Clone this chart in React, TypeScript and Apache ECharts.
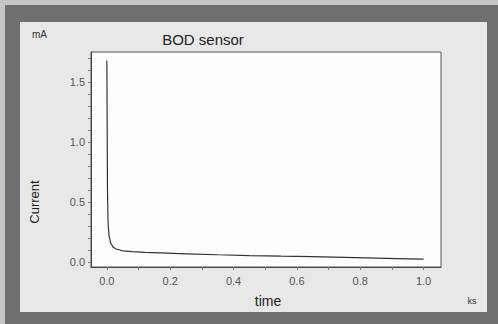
import React, { useEffect, useRef } from "react";
import * as echarts from "echarts";

const timeKs = [0, 0.001, 0.002, 0.004, 0.007, 0.012, 0.02, 0.03, 0.05, 0.08, 0.12, 0.17, 0.25, 0.35, 0.45, 0.55, 0.65, 0.75, 0.85, 0.95, 1.0];
const currentMA = [1.68, 1.2, 0.6, 0.32, 0.22, 0.16, 0.125, 0.11, 0.095, 0.088, 0.082, 0.077, 0.07, 0.062, 0.055, 0.05, 0.046, 0.04, 0.034, 0.028, 0.025];
const xLabels = [0, 0.2, 0.4, 0.6, 0.8, 1.0];
const xTicks = [0, 0.1, 0.2, 0.3, 0.4, 0.5, 0.6, 0.7, 0.8, 0.9, 1.0];
const yLabels = [0, 0.5, 1.0, 1.5];
const yTicks = [0, 0.1, 0.2, 0.3, 0.4, 0.5, 0.6, 0.7, 0.8, 0.9, 1.0, 1.1, 1.2, 1.3, 1.4, 1.5, 1.6, 1.7];

const FONT = "'Liberation Sans', Arial, sans-serif";

export default function App() {
  const ref = useRef<HTMLDivElement>(null);
  useEffect(() => {
    if (!ref.current) return;
    const chart = echarts.init(ref.current, undefined, { renderer: "svg" });
    chart.setOption({
      animation: false,
      backgroundColor: "transparent",
      textStyle: { fontFamily: FONT },
      grid: {
        left: 91,
        right: 57,
        top: 52,
        bottom: 57,
        show: true,
        backgroundColor: "#fdfdfd",
        borderColor: "#555",
        borderWidth: 1,
      },
      xAxis: {
        type: "value",
        min: -0.05,
        max: 1.055,
        splitLine: { show: false },
        axisLine: { show: true, onZero: false, lineStyle: { color: "#444", width: 1 } },
        axisTick: { show: true, length: 3, customValues: xTicks, lineStyle: { color: "#777" } },
        axisLabel: {
          customValues: xLabels,
          formatter: (v: number) => v.toFixed(1),
          color: "#555",
          fontSize: 11,
          margin: 8,
          fontFamily: FONT,
        },
      },
      yAxis: {
        type: "value",
        min: -0.04,
        max: 1.75,
        splitLine: { show: false },
        axisLine: { show: true, onZero: false, lineStyle: { color: "#444", width: 1 } },
        axisTick: { show: true, length: 3, customValues: yTicks, lineStyle: { color: "#777" } },
        axisLabel: {
          customValues: yLabels,
          formatter: (v: number) => v.toFixed(1),
          color: "#555",
          fontSize: 11,
          margin: 6,
          fontFamily: FONT,
        },
      },
      graphic: [
        { type: "text", x: 203, y: 39, style: { text: "BOD sensor", fill: "#222", font: `15px ${FONT}`, align: "center", verticalAlign: "middle" } },
        { type: "text", x: 32, y: 34, style: { text: "mA", fill: "#333", font: `10px ${FONT}`, align: "left", verticalAlign: "middle" } },
        { type: "text", x: 34, y: 202, rotation: Math.PI / 2, style: { text: "Current", fill: "#222", font: `13px ${FONT}`, align: "center", verticalAlign: "middle" } },
        { type: "text", x: 268, y: 301, style: { text: "time", fill: "#222", font: `14px ${FONT}`, align: "center", verticalAlign: "middle" } },
        { type: "text", x: 472, y: 301, style: { text: "ks", fill: "#333", font: `9px ${FONT}`, align: "center", verticalAlign: "middle" } },
      ],
      series: [
        {
          type: "line",
          data: timeKs.map((t, i) => [t, currentMA[i]]),
          showSymbol: false,
          symbol: "none",
          lineStyle: { color: "#333", width: 1.2 },
        },
      ],
    });
    return () => chart.dispose();
  }, []);
  return (
    <div style={{ position: "absolute", left: 0, top: 0, width: 498, height: 324, background: "#c6c6c6", overflow: "hidden" }}>
      <div style={{ position: "absolute", left: 5, top: 5, width: 493, height: 319, background: "#6f6f6f" }} />
      <div style={{ position: "absolute", left: 20, top: 22, width: 467, height: 290, background: "#e8e8e8" }} />
      <div ref={ref} style={{ position: "absolute", left: 0, top: 0, width: 498, height: 324 }} />
    </div>
  );
}
